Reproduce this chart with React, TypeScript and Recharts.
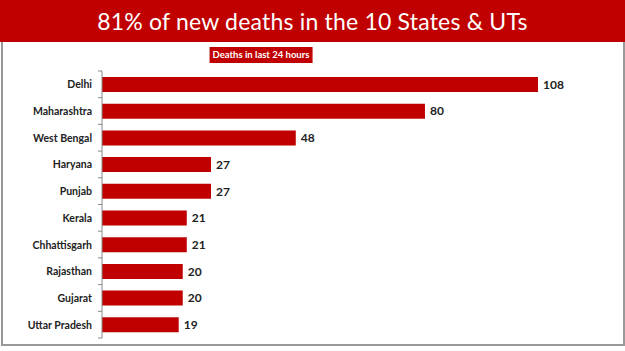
import { BarChart, Bar, XAxis, YAxis, LabelList } from 'recharts'

const states = [
  'Delhi',
  'Maharashtra',
  'West Bengal',
  'Haryana',
  'Punjab',
  'Kerala',
  'Chhattisgarh',
  'Rajasthan',
  'Gujarat',
  'Uttar Pradesh',
]
const deaths = [108, 80, 48, 27, 27, 21, 21, 20, 20, 19]

const data = states.map((name, i) => ({ name, deaths: deaths[i] }))

const RED = '#c00000'
const FONT = 'Lato, "Open Sans", sans-serif'

const W = 625
const H = 351
const PLOT_TOP = 71
const PLOT_BOTTOM = 338
const BAND = (PLOT_BOTTOM - PLOT_TOP) / states.length

// label at band centre, tick marks at the band boundaries
function StateTick(props: any) {
  const { x, y, payload, index } = props
  const axisX = x + 8
  return (
    <g>
      <line x1={axisX - 4} x2={axisX} y1={y - BAND / 2} y2={y - BAND / 2} stroke="#888" />
      {index === states.length - 1 && (
        <line x1={axisX - 4} x2={axisX} y1={y + BAND / 2} y2={y + BAND / 2} stroke="#888" />
      )}
      <text
        x={axisX - 10}
        y={y}
        dy={4}
        textAnchor="end"
        fill="#222"
        fontSize={10.5}
        fontWeight={700}
        fontFamily={FONT}
      >
        {payload.value}
      </text>
    </g>
  )
}

export default function App() {
  return (
    <div
      style={{
        position: 'fixed',
        top: 0,
        left: 0,
        width: W,
        height: H,
        background: '#fff',
        fontFamily: FONT,
        overflow: 'hidden',
      }}
    >
      <div
        style={{
          position: 'absolute',
          top: 0,
          left: 0,
          width: W,
          height: 42,
          background: RED,
          color: '#fff',
          fontSize: 23,
          lineHeight: '42px',
          textAlign: 'center',
          letterSpacing: 0.2,
        }}
      >
        81% of new deaths in the 10 States &amp; UTs
      </div>
      <div
        style={{
          position: 'absolute',
          top: 42,
          left: 1,
          width: W - 5,
          height: 302,
          borderLeft: '2px solid #999',
          borderRight: '2px solid #999',
          borderBottom: '2px solid #999',
        }}
      />
      <div
        style={{
          position: 'absolute',
          top: 47,
          left: 261,
          transform: 'translateX(-50%)',
          height: 16,
          padding: '0 3px',
          background: RED,
          color: '#fff',
          fontSize: 9.5,
          fontWeight: 700,
          lineHeight: '16px',
          textAlign: 'center',
          whiteSpace: 'nowrap',
        }}
      >
        Deaths in last 24 hours
      </div>
      <div style={{ position: 'absolute', top: 0, left: 0 }}>
        <BarChart
          width={W}
          height={H}
          data={data}
          layout="vertical"
          margin={{ top: PLOT_TOP, bottom: H - PLOT_BOTTOM, left: 0, right: 87 }}
          barSize={15}
        >
          <XAxis type="number" domain={[0, 108]} hide />
          <YAxis
            type="category"
            dataKey="name"
            width={102}
            axisLine={{ stroke: '#888' }}
            tickLine={false}
            tick={<StateTick />}
            interval={0}
          />
          <Bar dataKey="deaths" fill={RED} isAnimationActive={false}>
            <LabelList
              dataKey="deaths"
              position="right"
              offset={5}
              fill="#222"
              fontSize={12}
              fontWeight={700}
              fontFamily={FONT}
            />
          </Bar>
        </BarChart>
      </div>
    </div>
  )
}
